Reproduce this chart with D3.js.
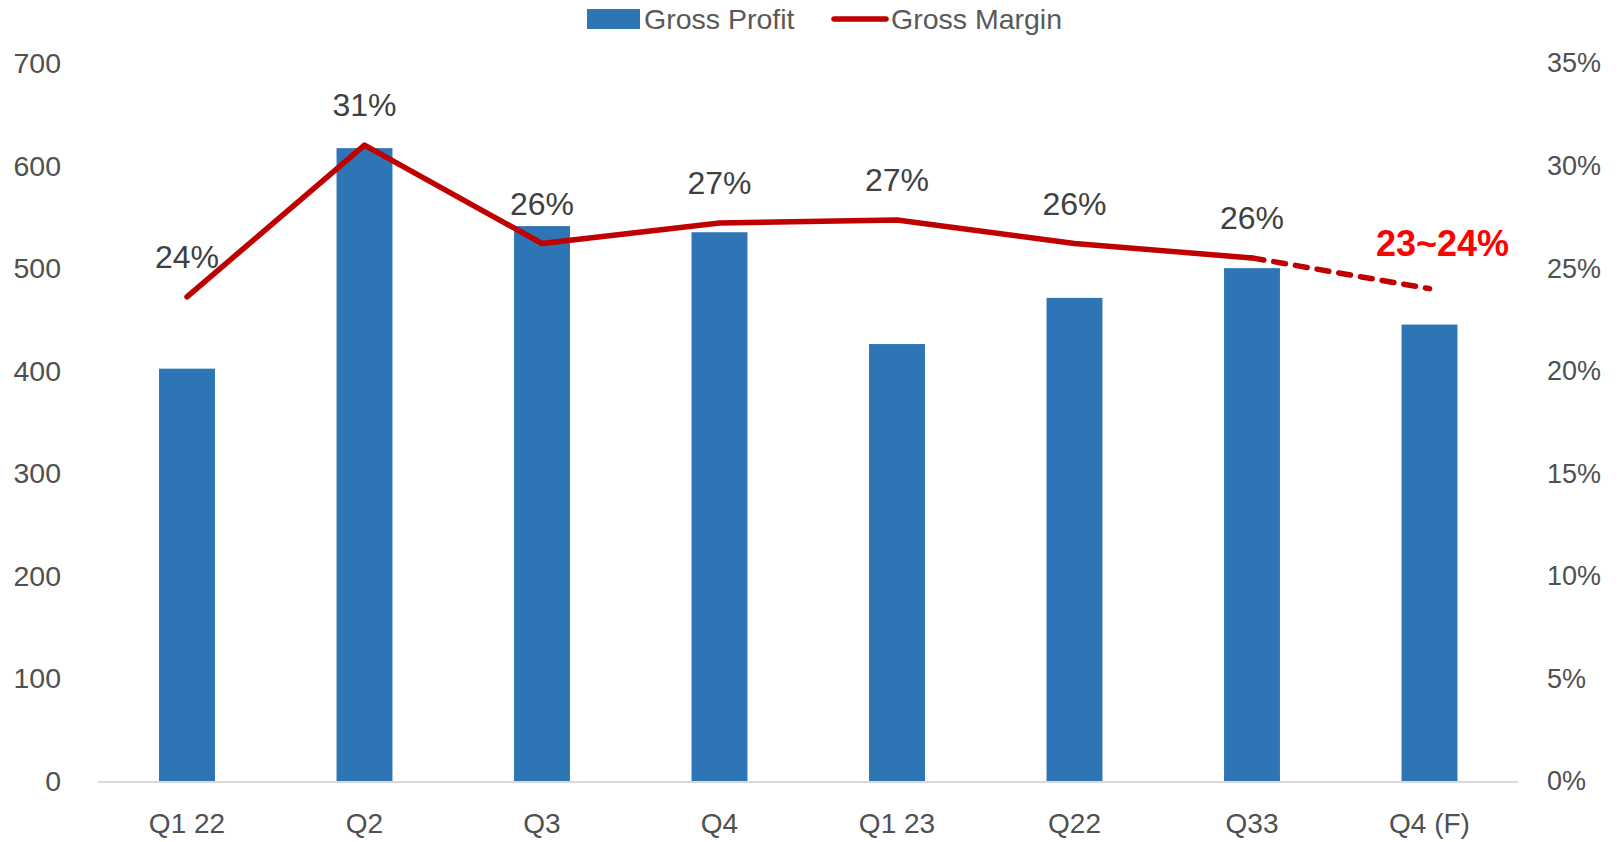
<!DOCTYPE html>
<html><head><meta charset="utf-8">
<script src="https://cdn.jsdelivr.net/npm/d3@7"></script>
<style>body{margin:0;background:#fff}svg{display:block}</style>
</head><body>
<svg id="c" width="1618" height="842"></svg>
<script>
const categories = ["Q1 22","Q2","Q3","Q4","Q1 23","Q22","Q33","Q4 (F)"];
const grossProfit = [402, 617, 541, 535, 426, 471, 500, 445];
const grossMargin = [23.6, 31.0, 26.2, 27.2, 27.35, 26.2, 25.5, 24.0];
const marginLabels = ["24%","31%","26%","27%","27%","26%","26%","23~24%"];
const leftTicks = [0,100,200,300,400,500,600,700];
const rightTicks = [0,5,10,15,20,25,30,35];
const seriesNames = ["Gross Profit","Gross Margin"];

const svg = d3.select("#c");
const font = "'Liberation Sans', Arial, sans-serif";
const x = d3.scaleBand().domain(categories).range([98.25, 1518.25]).padding(0);
const yL = d3.scaleLinear().domain([0,700]).range([781, 63]);
const yR = d3.scaleLinear().domain([0,35]).range([781, 63]);
const barW = x.bandwidth()*0.315;
const cx = d => x(d) + x.bandwidth()/2;

// bars
svg.append("g").selectAll("rect").data(categories).join("rect")
  .attr("x", (d)=>cx(d)-barW/2)
  .attr("y", (d,i)=>yL(grossProfit[i]))
  .attr("width", barW)
  .attr("height", (d,i)=>yL(0)-yL(grossProfit[i]))
  .attr("fill", "#2E75B6");

// bottom axis line
svg.append("line").attr("x1",98).attr("x2",1518).attr("y1",yL(0)+1).attr("y2",yL(0)+1)
  .attr("stroke","#D9D9D9").attr("stroke-width",2);

// left axis labels
svg.append("g").selectAll("text").data(leftTicks).join("text")
  .attr("x", 61).attr("y", d=>yL(d)).attr("dy","0.35em")
  .attr("text-anchor","end").attr("font-family",font).attr("font-size",28.5)
  .attr("fill","#505050").text(d=>d);

// right axis labels
svg.append("g").selectAll("text").data(rightTicks).join("text")
  .attr("x", 1547).attr("y", d=>yR(d)).attr("dy","0.35em")
  .attr("text-anchor","start").attr("font-family",font).attr("font-size",27)
  .attr("fill","#505050").text(d=>d+"%");

// x labels
svg.append("g").selectAll("text").data(categories).join("text")
  .attr("x", d=>cx(d)).attr("y", 833)
  .attr("text-anchor","middle").attr("font-family",font).attr("font-size",28)
  .attr("fill","#505050").text(d=>d);

// line
const pts = categories.map((c,i)=>[cx(c), yR(grossMargin[i])]);
const line = d3.line().curve(d3.curveLinear);
svg.append("path").attr("d", line(pts.slice(0,7)))
  .attr("fill","none").attr("stroke","#C00000").attr("stroke-width",5.5)
  .attr("stroke-linejoin","round").attr("stroke-linecap","round");
svg.append("path").attr("d", line(pts.slice(6)))
  .attr("fill","none").attr("stroke","#C00000").attr("stroke-width",5.5)
  .attr("stroke-dasharray","12,10").attr("stroke-linecap","round");

// data labels
svg.append("g").selectAll("text").data(categories.slice(0,7)).join("text")
  .attr("x", d=>cx(d)).attr("y", (d,i)=>yR(grossMargin[i])-29)
  .attr("text-anchor","middle").attr("font-family",font).attr("font-size",32)
  .attr("fill","#404040").text((d,i)=>marginLabels[i]);
svg.append("text")
  .attr("x", cx(categories[7])+13).attr("y", yR(grossMargin[7])-33)
  .attr("text-anchor","middle").attr("font-family",font).attr("font-size",36)
  .attr("font-weight","bold").attr("fill","#FF0000").text(marginLabels[7]);

// legend
const lg = svg.append("g");
lg.append("rect").attr("x",587).attr("y",9).attr("width",53).attr("height",20).attr("fill","#2E75B6");
lg.append("text").attr("x",644).attr("y",19).attr("dy","0.35em").attr("font-family",font)
  .attr("font-size",28.5).attr("fill","#595959").text(seriesNames[0]);
lg.append("line").attr("x1",834).attr("x2",886).attr("y1",19).attr("y2",19)
  .attr("stroke","#C00000").attr("stroke-width",5.5).attr("stroke-linecap","round");
lg.append("text").attr("x",891).attr("y",19).attr("dy","0.35em").attr("font-family",font)
  .attr("font-size",28.5).attr("fill","#595959").text(seriesNames[1]);
</script>
</body></html>
